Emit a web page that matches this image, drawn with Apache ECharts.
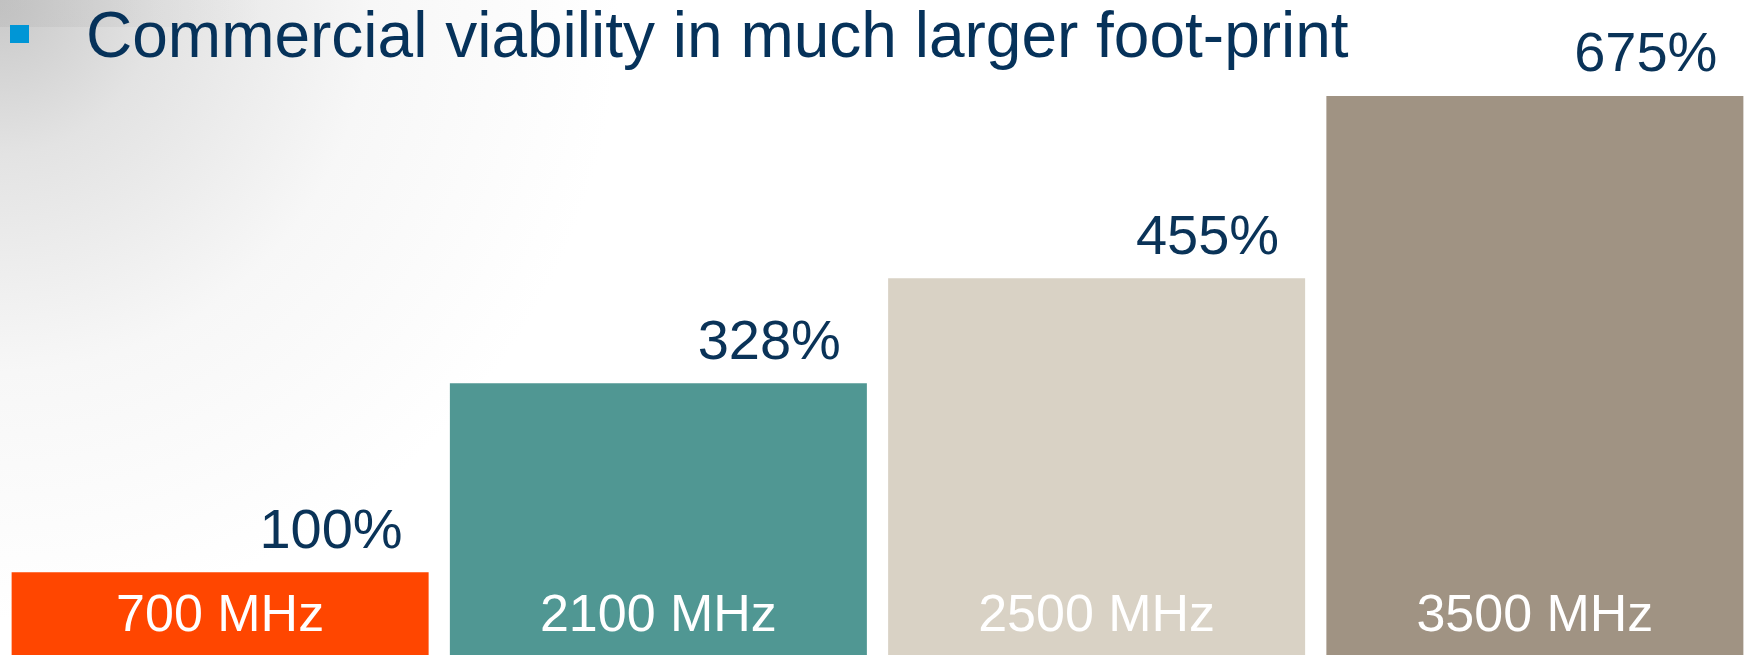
<!DOCTYPE html>
<html>
<head>
<meta charset="utf-8">
<script src="https://cdn.jsdelivr.net/npm/echarts@6/dist/echarts.min.js"></script>
<style>
html,body{margin:0;padding:0;background:#fff;}
#chart{width:1747px;height:655px;}
</style>
</head>
<body>
<div id="chart"></div>
<script>
var titleText = 'Commercial viability in much larger foot-print';
var categories = ['700 MHz', '2100 MHz', '2500 MHz', '3500 MHz'];
var values = [100, 328, 455, 675];
var barColors = ['#FF4600', '#509793', '#D9D2C5', '#A09383'];

var chart = echarts.init(document.getElementById('chart'));
var font = 'Liberation Sans, Arial, Helvetica, sans-serif';

chart.setOption({
  animation: false,
  backgroundColor: '#ffffff',
  title: {
    text: titleText,
    left: 86,
    top: 7,
    padding: 0,
    textStyle: {
      fontFamily: font,
      fontSize: 64,
      lineHeight: 64,
      fontWeight: 'normal',
      color: '#06325A'
    }
  },
  graphic: [
    {
      type: 'rect', z: -100, silent: true,
      shape: {x: 0, y: 0, width: 1747, height: 655},
      style: {
        fill: new echarts.graphic.RadialGradient(0, 0, 620, [
          {offset: 0, color: '#c8c8c8'},
          {offset: 0.25, color: '#e3e3e3'},
          {offset: 0.6, color: '#f7f7f7'},
          {offset: 1, color: '#ffffff'}
        ], true)
      }
    },
    {
      type: 'rect', z: -99, silent: true,
      shape: {x: 0, y: 0, width: 260, height: 27},
      style: {
        fill: new echarts.graphic.LinearGradient(0, 0, 1, 0, [
          {offset: 0, color: 'rgba(180,180,180,0.35)'},
          {offset: 1, color: 'rgba(180,180,180,0)'}
        ])
      }
    },
    {
      type: 'rect', z: 10, silent: true,
      shape: {x: 10, y: 25, width: 19, height: 18},
      style: {fill: '#0096D6'}
    }
  ],
  grid: {left: 1, width: 1753, top: 96, bottom: 0, containLabel: false, outerBoundsMode: 'none'},
  xAxis: {
    type: 'category',
    data: categories,
    z: 5,
    axisLine: {show: false},
    axisTick: {show: false},
    splitLine: {show: false},
    axisLabel: {
      inside: true,
      margin: 38,
      verticalAlign: 'middle',
      color: '#ffffff',
      fontFamily: font,
      fontSize: 52
    }
  },
  yAxis: {
    type: 'value',
    min: 0,
    max: 675,
    show: false
  },
  series: [{
    type: 'bar',
    barWidth: 417,
    data: values.map(function (v, i) {
      return {value: v, itemStyle: {color: barColors[i]}};
    }),
    label: {
      show: true,
      position: ['100%', 0],
      offset: [-26, -40],
      align: 'right',
      verticalAlign: 'middle',
      formatter: '{c}%',
      color: '#0A3358',
      fontFamily: font,
      fontSize: 56
    }
  }]
});
</script>
</body>
</html>
